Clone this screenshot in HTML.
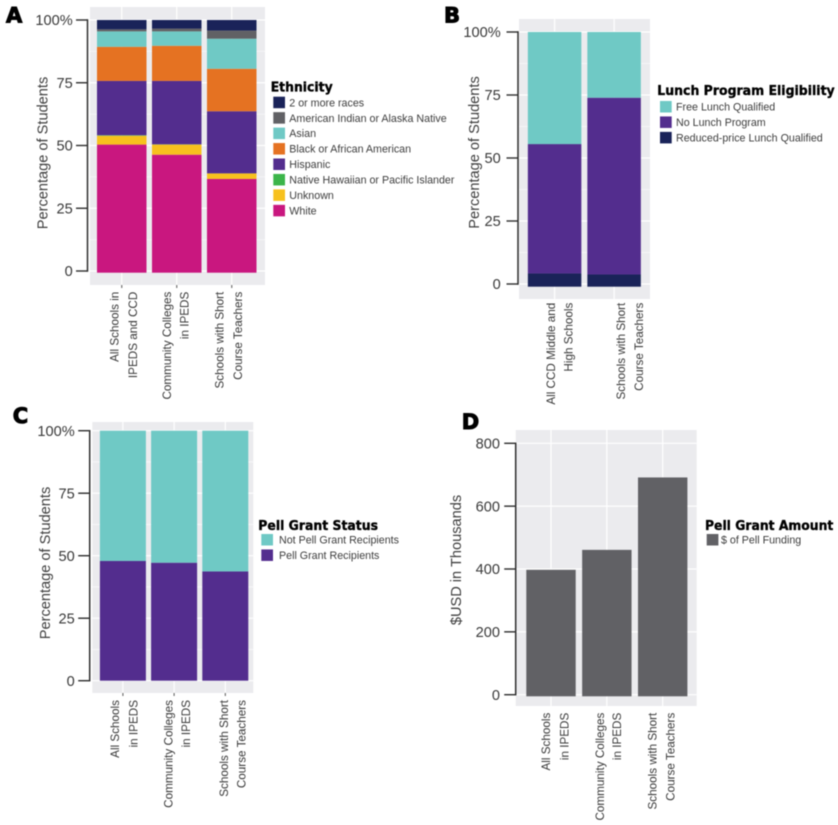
<!DOCTYPE html>
<html lang="en">
<head>
<meta charset="utf-8">
<title>Student demographics and Pell funding by school group</title>
<style>
  html, body { margin: 0; padding: 0; background: #fff; }
  #figure { display: block; width: 838px; height: 825px; filter: blur(0.4px); }
  text { font-family: "Liberation Sans", sans-serif; }
  .tick { font-size: 14.6px; fill: #3a3a3a; }
  .ytitle { font-size: 14.6px; fill: #3f3f3f; }
  .cat { font-size: 11.7px; fill: #3a3a3a; }
  .leg { font-size: 10.7px; fill: #3d3d3d; }
  .legtitle { font-family: "DejaVu Sans", sans-serif; font-weight: bold; font-size: 13px; fill: #000; stroke: #000; stroke-width: .35px; }
  .letter { font-family: "DejaVu Sans", sans-serif; font-weight: bold; font-size: 21px; fill: #000; stroke: #000; stroke-width: 1px; }
</style>
</head>
<body>
<svg id="figure" xmlns="http://www.w3.org/2000/svg" width="838" height="825" viewBox="0 0 838 825"></svg>
<script>
// Panel A data (segment sizes, bottom to top)
const catsA = [["All Schools in", "IPEDS and CCD"], ["Community Colleges", "in IPEDS"], ["Schools with Short", "Course Teachers"]];
const white = [50.7, 46.7, 37.1];
const unknown = [3.5, 4.0, 2.2];
const nativeHawaiian = [0.2, 0.1, 0];
const hispanic = [21.5, 25.1, 24.6];
const blackAfrican = [13.5, 13.9, 16.8];
const asian = [6.1, 5.7, 11.9];
const americanIndian = [0.8, 1.1, 3.2];
const twoOrMore = [3.7, 3.4, 4.2];
const legendA = ["2 or more races", "American Indian or Alaska Native", "Asian", "Black or African American", "Hispanic", "Native Hawaiian or Pacific Islander", "Unknown", "White"];

// Panel B data
const catsB = [["All CCD Middle and", "High Schools"], ["Schools with Short", "Course Teachers"]];
const reducedLunch = [5.2, 4.8];
const noLunch = [50.8, 69.4];
const freeLunch = [44.0, 25.8];
const legendB = ["Free Lunch Qualified", "No Lunch Program", "Reduced-price Lunch Qualified"];

// Panel C data
const catsC = [["All Schools", "in IPEDS"], ["Community Colleges", "in IPEDS"], ["Schools with Short", "Course Teachers"]];
const pellRecipients = [47.9, 47.2, 43.7];
const notPellRecipients = [52.1, 52.8, 56.3];
const legendC = ["Not Pell Grant Recipients", "Pell Grant Recipients"];

// Panel D data
const catsD = [["All Schools", "in IPEDS"], ["Community Colleges", "in IPEDS"], ["Schools with Short", "Course Teachers"]];
const pellFunding = [400, 463, 692];
const legendD = ["$ of Pell Funding"];

// Shared tick labels
const pctTicks = [0, 25, 50, 75, 100];
const usdTicks = [0, 200, 400, 600, 800];

const NAVY = "#1a2359", GRAY = "#616165", TEAL = "#6fc9c5", ORANGE = "#e57222",
      PURPLE = "#532d8e", GREEN = "#3cb54a", YELLOW = "#f7c11e", MAGENTA = "#c9177f";

const svg = document.getElementById("figure");
const NS = "http://www.w3.org/2000/svg";

function el(tag, attrs, parent) {
  const n = document.createElementNS(NS, tag);
  for (const k in attrs) n.setAttribute(k, attrs[k]);
  parent.appendChild(n);
  return n;
}
function slug(s) {
  return s.toLowerCase().replace(/[^a-z0-9]+/g, "-").replace(/^-|-$/g, "");
}

function drawPanel(p) {
  const g = el("g", {}, svg);
  
  

  const yTick = v => p.tickZero + (p.tickTop - p.tickZero) * v / p.tickMax;
  const yBar = v => p.barZero + (p.barTop - p.barZero) * v / p.tickMax;
  const xCenter = i => p.firstCenter + p.step * i;

  const letter = el("text", { x: p.letterX, y: p.letterY, class: "letter" }, g);
  letter.textContent = p.id;
  
  

  const bg = el("rect", { x: p.left, y: p.top, width: p.right - p.left, height: p.bottom - p.top, fill: "#ebebee" }, g);
  
  

  // Grid lines
  p.ticks.forEach((t, idx) => {
    const major = el("line", { x1: p.left, x2: p.right, y1: yTick(t), y2: yTick(t), stroke: "#fff", "stroke-width": 1.2 }, g);
    
    
    if (p.minorGrid && idx < p.ticks.length - 1) {
      const mid = (t + p.ticks[idx + 1]) / 2;
      const minor = el("line", { x1: p.left, x2: p.right, y1: yTick(mid), y2: yTick(mid), stroke: "#fff", "stroke-width": 0.6 }, g);
      
      
    }
  });
  p.cats.forEach((c, i) => {
    const v = el("line", { x1: xCenter(i), x2: xCenter(i), y1: p.top, y2: p.bottom, stroke: "#fff", "stroke-width": 1.2 }, g);
    
    
  });

  // Stacked bars
  p.cats.forEach((c, i) => {
    let cum = 0;
    p.series.forEach(s => {
      const val = s.values[i];
      const y0 = yBar(cum), y1 = yBar(cum + val);
      cum += val;
      const r = el("rect", { x: xCenter(i) - p.barWidth / 2, y: y1, width: p.barWidth, height: Math.max(0, y0 - y1), fill: s.color }, g);
      
      
    });
  });

  // Axis
  const axis = el("line", { x1: p.axisX, x2: p.axisX, y1: yTick(p.tickMax) - 0.7, y2: yTick(0) + 0.7, stroke: "#2e2e2e", "stroke-width": 1.5 }, g);
  
  
  p.ticks.forEach((t, idx) => {
    const tk = el("line", { x1: p.axisX - 11.5, x2: p.axisX, y1: yTick(t), y2: yTick(t), stroke: "#2e2e2e", "stroke-width": 1.4 }, g);
    
    
    const lb = el("text", { x: p.tickLabelX, y: yTick(t) + 5.2, "text-anchor": "end", class: "tick" }, g);
    lb.textContent = (idx === p.ticks.length - 1 && p.percent) ? t + "%" : String(t);
    
    
  });

  const yt = el("text", { transform: "translate(" + p.yTitleX + "," + p.yTitleY + ") rotate(-90)", "text-anchor": "middle", class: "ytitle" }, g);
  yt.textContent = p.yTitle;
  
  

  // Category labels
  p.cats.forEach((c, i) => {
    if (p.xTicks) {
      const xt = el("line", { x1: xCenter(i), x2: xCenter(i), y1: p.bottom, y2: p.bottom + 3, stroke: "#555", "stroke-width": 1 }, g);
      
      
    }
    c.forEach((line, j) => {
      const t = el("text", { transform: "translate(" + (xCenter(i) + p.labelDx[i][j]) + "," + p.labelTop + ") rotate(-90)", "text-anchor": "end", class: "cat" }, g);
      t.textContent = line;
      
      
    });
  });

  // Legend
  const lg = el("g", {}, g);
  
  
  const lt = el("text", { x: p.legX, y: p.legTitleY, class: "legtitle", textLength: p.legTitleW, lengthAdjust: "spacingAndGlyphs" }, lg);
  lt.textContent = p.legendTitle;
  
  
  p.legend.forEach((name, i) => {
    const y = p.legSwatchY + i * 15.45;
    const sw = el("rect", { x: p.legSwatchX, y: y, width: 11.7, height: 11.5, fill: p.legendColors[i] }, lg);
    
    
    const tx = el("text", { x: p.legTextX, y: y + 9.6, class: "leg" }, lg);
    tx.textContent = name;
    
    
  });
}

drawPanel({
  id: "A", letterX: 6, letterY: 22.7,
  left: 90, right: 265, top: 7, bottom: 285,
  tickZero: 271, tickTop: 20, barZero: 272.7, barTop: 20, tickMax: 100,
  firstCenter: 121.75, step: 55, barWidth: 49.5, axisX: 87.5, tickLabelX: 72.7,
  ticks: pctTicks, percent: true, minorGrid: true, xTicks: true,
  yTitle: "Percentage of Students", yTitleX: 47.5, yTitleY: 153,
  cats: catsA, labelTop: 291.7, labelDx: [[-3.4, 15], [-5.7, 11.5], [-8.4, 10]],
  series: [
    { name: "White", values: white, color: MAGENTA },
    { name: "Unknown", values: unknown, color: YELLOW },
    { name: "Native Hawaiian", values: nativeHawaiian, color: GREEN },
    { name: "Hispanic", values: hispanic, color: PURPLE },
    { name: "Black or African American", values: blackAfrican, color: ORANGE },
    { name: "Asian", values: asian, color: TEAL },
    { name: "American Indian", values: americanIndian, color: GRAY },
    { name: "Two or more", values: twoOrMore, color: NAVY }
  ],
  legendTitle: "Ethnicity", legX: 270.7, legTitleY: 91.7, legTitleW: 62,
  legSwatchX: 273.3, legSwatchY: 96.7, legTextX: 289.3,
  legend: legendA, legendColors: [NAVY, GRAY, TEAL, ORANGE, PURPLE, GREEN, YELLOW, MAGENTA]
});

drawPanel({
  id: "B", letterX: 444, letterY: 22.7,
  left: 519, right: 650, top: 19, bottom: 299,
  tickZero: 284, tickTop: 32, barZero: 286.7, barTop: 32, tickMax: 100,
  firstCenter: 554.6, step: 59.5, barWidth: 53.5, axisX: 518, tickLabelX: 500.7,
  ticks: pctTicks, percent: true, minorGrid: true, xTicks: false,
  yTitle: "Percentage of Students", yTitleX: 479, yTitleY: 152.5,
  cats: catsB, labelTop: 302.7, labelDx: [[0.4, 18], [10.9, 29]],
  series: [
    { name: "Reduced-price Lunch", values: reducedLunch, color: NAVY },
    { name: "No Lunch Program", values: noLunch, color: PURPLE },
    { name: "Free Lunch", values: freeLunch, color: TEAL }
  ],
  legendTitle: "Lunch Program Eligibility", legX: 657.3, legTitleY: 95, legTitleW: 177.4,
  legSwatchX: 660, legSwatchY: 101, legTextX: 676,
  legend: legendB, legendColors: [TEAL, PURPLE, NAVY]
});

drawPanel({
  id: "C", letterX: 12.7, letterY: 423,
  left: 92.3, right: 253.3, top: 422, bottom: 693,
  tickZero: 680.7, tickTop: 430.7, barZero: 680.7, barTop: 430.7, tickMax: 100,
  firstCenter: 122.9, step: 51.2, barWidth: 46, axisX: 89.7, tickLabelX: 74.7,
  ticks: pctTicks, percent: true, minorGrid: true, xTicks: true,
  yTitle: "Percentage of Students", yTitleX: 50, yTitleY: 563,
  cats: catsC, labelTop: 700, labelDx: [[-3.9, 14.4], [-1.4, 15.9], [2.9, 20.2]],
  series: [
    { name: "Pell Grant Recipients", values: pellRecipients, color: PURPLE },
    { name: "Not Pell Grant Recipients", values: notPellRecipients, color: TEAL }
  ],
  legendTitle: "Pell Grant Status", legX: 258.3, legTitleY: 530, legTitleW: 119.7,
  legSwatchX: 261.3, legSwatchY: 534, legTextX: 279,
  legend: legendC, legendColors: [TEAL, PURPLE]
});

drawPanel({
  id: "D", letterX: 461.7, letterY: 429,
  left: 515.7, right: 696.7, top: 430, bottom: 706,
  tickZero: 694.7, tickTop: 443.3, barZero: 696.3, barTop: 443.3, tickMax: 800,
  firstCenter: 551, step: 55.85, barWidth: 49.4, axisX: 515.7, tickLabelX: 500,
  ticks: usdTicks, percent: false, minorGrid: false, xTicks: false,
  yTitle: "$USD in Thousands", yTitleX: 461, yTitleY: 560,
  cats: catsD, labelTop: 712.7, labelDx: [[-1, 17.3], [-3, 14], [-6, 11.6]],
  series: [
    { name: "Pell Funding", values: pellFunding, color: GRAY }
  ],
  legendTitle: "Pell Grant Amount", legX: 705, legTitleY: 530, legTitleW: 128.3,
  legSwatchX: 706.7, legSwatchY: 534, legTextX: 721,
  legend: legendD, legendColors: [GRAY]
});
</script>
</body>
</html>
